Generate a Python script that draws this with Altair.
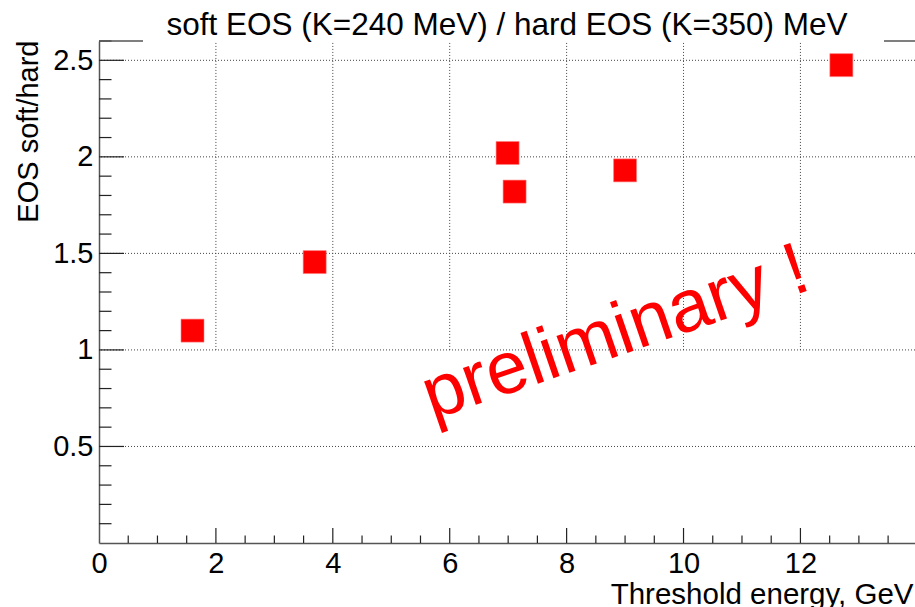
import altair as alt
import pandas as pd

# Measured ratios of soft to hard EOS yields versus threshold energy
threshold_energy = [1.60, 3.69, 6.99, 7.11, 9.00, 12.70]
eos_ratio = [1.10, 1.455, 2.02, 1.82, 1.93, 2.475]

# Axis tick positions
x_major = [0, 2, 4, 6, 8, 10, 12]
x_grid = [2, 4, 6, 8, 10, 12]
x_minor = [0.5, 1, 1.5, 2.5, 3, 3.5, 4.5, 5, 5.5, 6.5, 7, 7.5,
           8.5, 9, 9.5, 10.5, 11, 11.5, 12.5, 13, 13.5]
y_major = [0.5, 1, 1.5, 2, 2.5]
y_minor = [0.1, 0.2, 0.3, 0.4, 0.6, 0.7, 0.8, 0.9, 1.1, 1.2, 1.3, 1.4,
           1.6, 1.7, 1.8, 1.9, 2.1, 2.2, 2.3, 2.4, 2.6]

# Watermark annotation
note_text = ["preliminary !"]
note_x = [5.70]
note_y = [0.637]

FONT = "Liberation Sans"
W, H = 816, 502

xs = alt.Scale(domain=[0, 13.96], nice=False, zero=False)
ys = alt.Scale(domain=[0, 2.6], nice=False, zero=False)

points = pd.DataFrame({"energy": threshold_energy, "ratio": eos_ratio})
note = pd.DataFrame({"x": note_x, "y": note_y, "t": note_text})

x_axis = alt.Axis(
    values=x_major, format="d", grid=False, ticks=False,
    domainColor="#555555", domainWidth=1.5,
    labelFont=FONT, labelFontSize=29, labelColor="black",
    labelPadding=6.5, labelFlush=False, labelOverlap=False,
    title="Threshold energy, GeV", titleFont=FONT, titleFontSize=29.5,
    titleFontWeight="normal", titleColor="black",
    titleAlign="right", titleBaseline="alphabetic",
    titleX=814, titleY=60.5,
)
y_axis = alt.Axis(
    values=y_major, format="~g", grid=False, ticks=False,
    domainColor="#555555", domainWidth=1.5,
    labelFont=FONT, labelFontSize=29, labelColor="black",
    labelPadding=6, labelFlush=False, labelOverlap=False,
    title="EOS soft/hard", titleFont=FONT, titleFontSize=29,
    titleFontWeight="normal", titleColor="black",
    titleAngle=270, titleAlign="right", titleBaseline="alphabetic",
    titleX=-62, titleY=-1,
)

grid_style = dict(color="#444444", strokeDash=[1, 2], strokeWidth=1)

# The first layer carries both axes so that they are kept in the layered view
xgrid = alt.Chart(pd.DataFrame({"v": x_grid, "w": [1.0] * len(x_grid)})).mark_rule(**grid_style).encode(
    x=alt.X("v:Q", scale=xs, axis=x_axis),
    y=alt.Y("w:Q", scale=ys, axis=y_axis),
    y2=alt.value(0),
)
ygrid = alt.Chart(pd.DataFrame({"v": y_major})).mark_rule(**grid_style).encode(
    y=alt.Y("v:Q", scale=ys))

tick_style = dict(color="#222222", strokeWidth=1.2)
x_major_ticks = alt.Chart(pd.DataFrame({"v": x_major[1:]})).mark_rule(**tick_style).encode(
    x=alt.X("v:Q", scale=xs), y=alt.value(H), y2=alt.value(H - 15))
x_minor_ticks = alt.Chart(pd.DataFrame({"v": x_minor})).mark_rule(**tick_style).encode(
    x=alt.X("v:Q", scale=xs), y=alt.value(H), y2=alt.value(H - 7.5))
y_major_ticks = alt.Chart(pd.DataFrame({"v": y_major})).mark_rule(**tick_style).encode(
    y=alt.Y("v:Q", scale=ys), x=alt.value(0), x2=alt.value(25))
y_minor_ticks = alt.Chart(pd.DataFrame({"v": y_minor})).mark_rule(**tick_style).encode(
    y=alt.Y("v:Q", scale=ys), x=alt.value(0), x2=alt.value(12.5))

# Top frame, interrupted by the title box
frame_style = dict(color="#555555", strokeWidth=1.5)
frame_left = alt.Chart(pd.DataFrame({"v": [0]})).mark_rule(**frame_style).encode(
    x=alt.value(0), x2=alt.value(44), y=alt.value(0))
frame_right = alt.Chart(pd.DataFrame({"v": [0]})).mark_rule(**frame_style).encode(
    x=alt.value(785), x2=alt.value(W), y=alt.value(0))

markers = alt.Chart(points).mark_square(
    size=529, color="#ff0000", opacity=1, stroke="#ff8080", strokeWidth=0.6
).encode(
    x=alt.X("energy:Q", scale=xs),
    y=alt.Y("ratio:Q", scale=ys),
)

watermark = alt.Chart(note).mark_text(
    font=FONT, fontSize=74, color="#ff0000", angle=341,
    align="left", baseline="alphabetic"
).encode(
    x=alt.X("x:Q", scale=xs),
    y=alt.Y("y:Q", scale=ys),
    text="t:N",
)

chart = alt.layer(
    xgrid, ygrid, x_minor_ticks, x_major_ticks, y_minor_ticks, y_major_ticks,
    frame_left, frame_right, watermark, markers,
).properties(
    width=W, height=H,
    title=alt.TitleParams(
        "soft EOS (K=240 MeV) / hard EOS (K=350) MeV",
        font=FONT, fontSize=31.5, fontWeight="normal", color="black",
        anchor="middle", baseline="alphabetic", offset=4.5, frame="group",
        dy=31,
    ),
    autosize=alt.AutoSizeParams(type="none"),
    padding={"left": 99, "top": 41, "right": 0, "bottom": 64},
    background="white",
).configure_view(stroke=None)

chart.save("out.html", embed_options={"renderer": "svg", "actions": False})
